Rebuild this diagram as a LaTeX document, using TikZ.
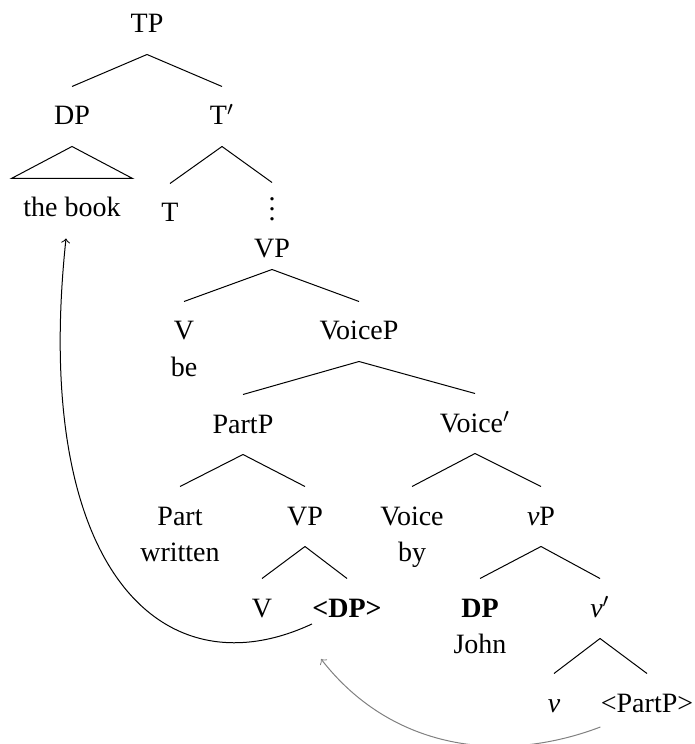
\documentclass[tikz,border=0pt]{standalone}
\usepackage{fontspec}
\setmainfont{Liberation Serif}

\begin{document}
\begin{tikzpicture}[x=0.4pt, y=-0.4pt,
  font=\fontsize{11.2}{14.4}\selectfont,
  syn/.style={anchor=base, inner sep=0pt, text height=15.2pt, text depth=8.4pt, align=center},
  twoline/.style={syn, text height=29.6pt},
  move/.style={->}]

\useasboundingbox (0,0) rectangle (694,744);

% -------------------------------------------------------
% 1. Upper part: TP, DP, T'
% -------------------------------------------------------
\node[syn] (tp) at (147,33) {TP};
\node[syn] (dp) at (72,125) {DP};
\node[syn] (tbar) at (222,125) {T$'$};
\node[syn, inner xsep=4.6pt] (book) at (72,217) {the book};
\node[syn] (t) at (170,222) {T};
\node[syn] (vdots) at (272,221) {$\vdots$};

% DP roof
\draw (dp.south) -- (book.north west) -- (book.north east) -- cycle;

% -------------------------------------------------------
% 2. VP, VoiceP and PartP
% -------------------------------------------------------
\node[syn, text depth=4.4pt] (vpone) at (272,258) {VP};
\node[twoline] (vbe) at (184,376) {V\\be};
\node[syn] (voicep) at (359,340) {VoiceP};
\node[syn] (partp) at (243,433) {PartP};
\node[syn] (voicebar) at (475,432) {Voice$'$};
\node[twoline] (part) at (180,561) {Part\\written};
\node[syn] (vptwo) at (305,525) {VP};
\node[twoline] (voice) at (412,561) {Voice\\by};
\node[syn] (littlevp) at (541,525) {\textit{v}P};

% -------------------------------------------------------
% 3. Lowest levels
% -------------------------------------------------------
\node[syn] (vlow) at (262,617) {V};
\node[syn] (dptrace) at (347,617) {\textbf{<DP>}};
\node[twoline] (dpjohn) at (480,653) {\textbf{DP}\\John};
\node[syn] (vbar) at (600,617) {\textit{v}$'$};
\node[syn] (littlev) at (554,712) {\textit{v}};
\node[syn] (parttrace) at (647,712) {<PartP>};

% branches
\foreach \p/\c in {tp/dp, tp/tbar, tbar/t, tbar/vdots,
  vpone/vbe, vpone/voicep, voicep/partp, voicep/voicebar,
  partp/part, partp/vptwo, vptwo/vlow, vptwo/dptrace,
  voicebar/voice, voicebar/littlevp, littlevp/dpjohn, littlevp/vbar,
  vbar/littlev, vbar/parttrace} {
  \draw (\p.south) -- (\c.north);
}

% -------------------------------------------------------
% 4. Movement arrows
% -------------------------------------------------------
% DP moves up to the subject position
\draw[move] ([yshift=-2.8pt]dptrace.base west)
  .. controls +(-150,70) and +(-35,330) .. ([xshift=-2.4pt]book.south);
% PartP moves past the by-phrase
\draw[move, gray] ([yshift=-6pt]parttrace.base west)
  .. controls +(-100,38) and +(70,90) .. ([shift={(-10.4pt,-16.8pt)}]dptrace.base);

\end{tikzpicture}
\end{document}
